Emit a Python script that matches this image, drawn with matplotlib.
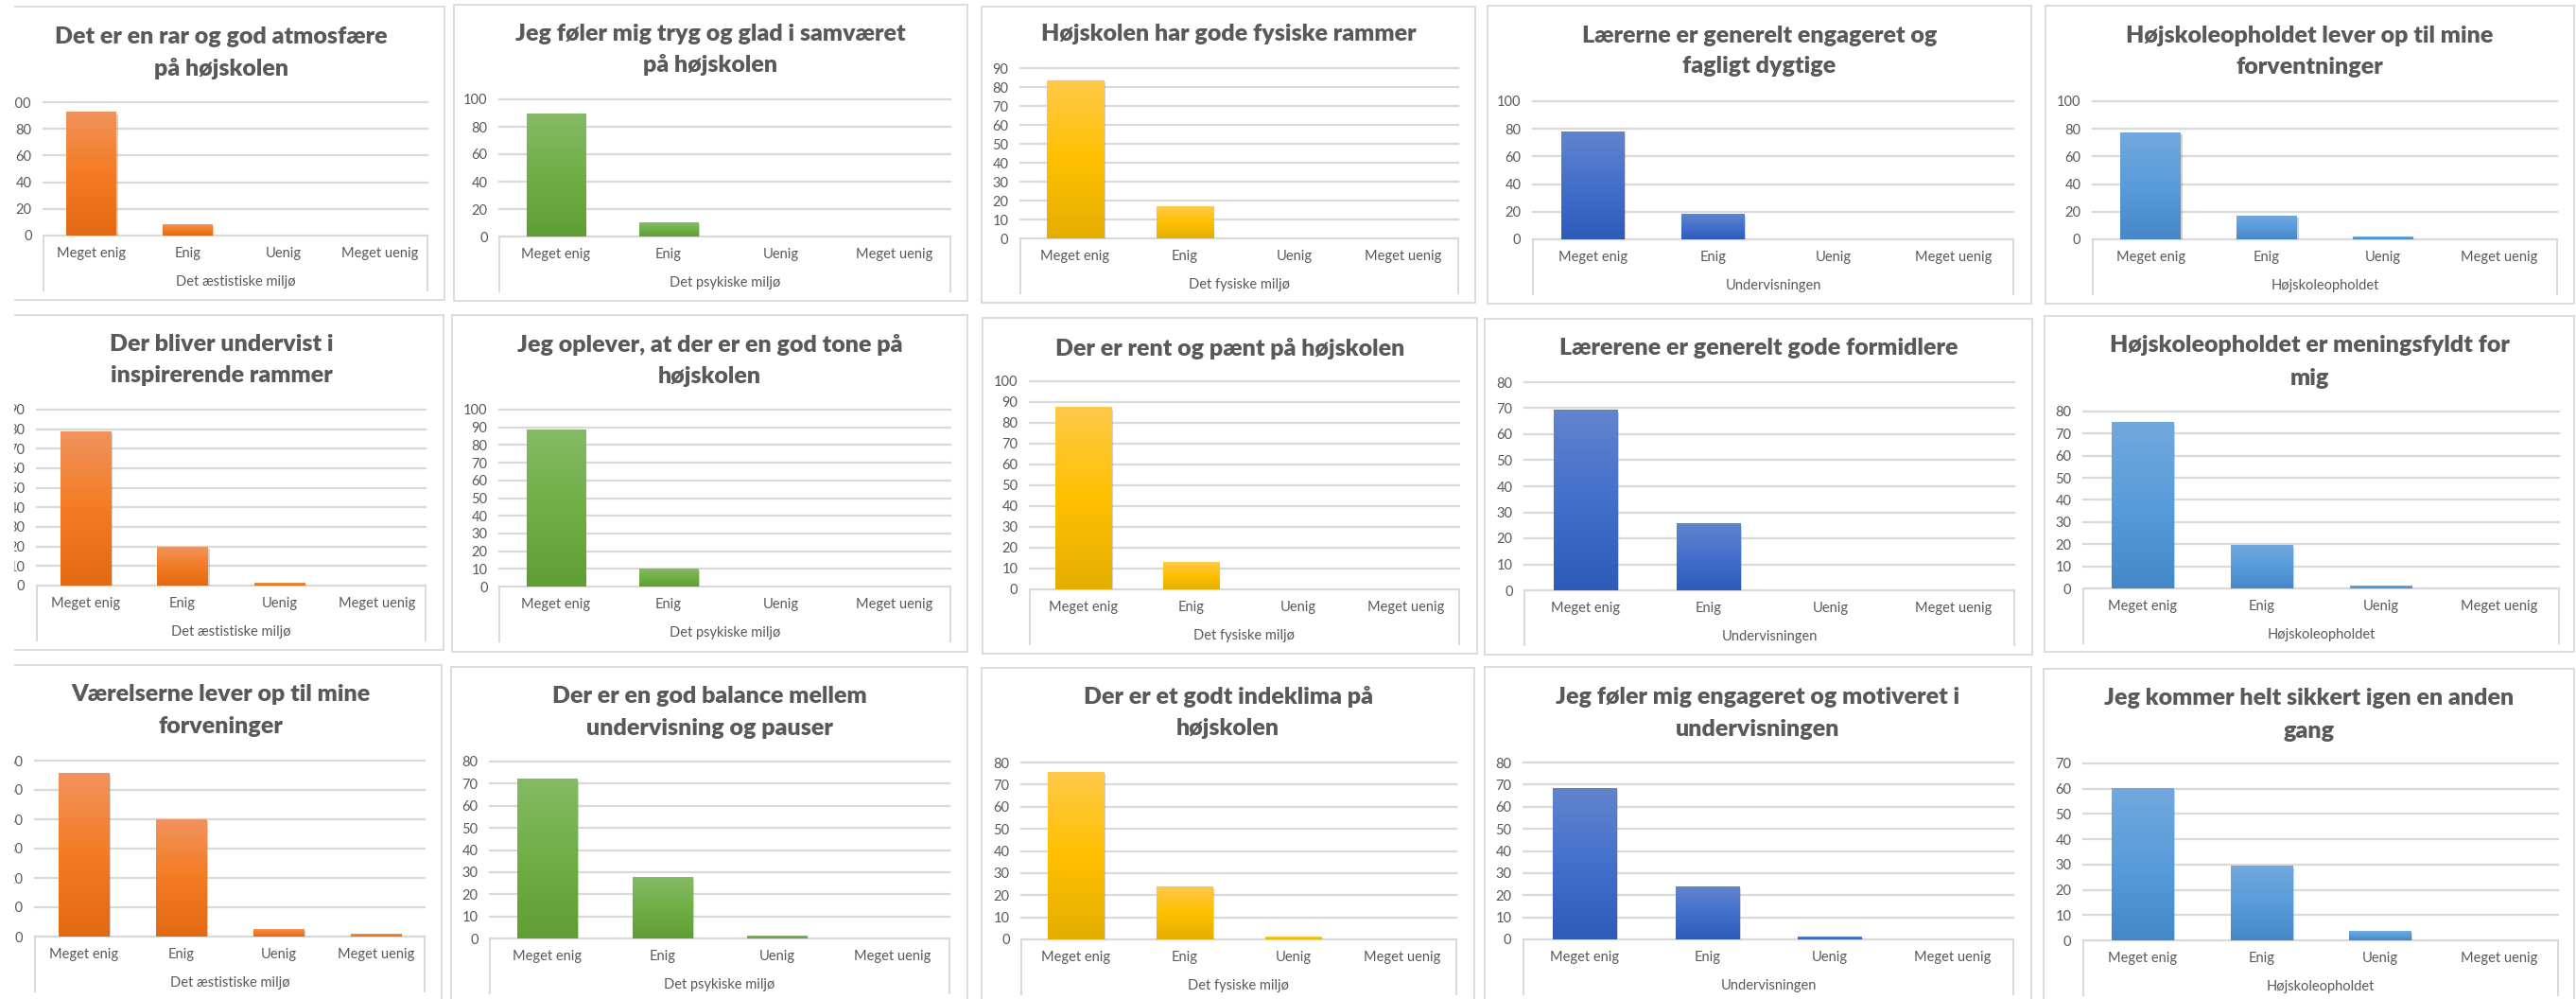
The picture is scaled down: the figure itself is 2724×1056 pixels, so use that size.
import matplotlib
matplotlib.use("Agg")
import matplotlib.pyplot as plt
from matplotlib.patches import Rectangle
from matplotlib.colors import LinearSegmentedColormap
import matplotlib.patheffects as pe
import numpy as np

plt.rcParams['font.family'] = ['Lato', 'DejaVu Sans']

# ---------------- data ----------------
categories = ["Meget enig", "Enig", "Uenig", "Meget uenig"]

group_titles = ["Det æstistiske miljø", "Det psykiske miljø", "Det fysiske miljø",
                "Undervisningen", "Højskoleopholdet"]

chart_titles = [
    "Det er en rar og god atmosfære\npå højskolen",
    "Jeg føler mig tryg og glad i samværet\npå højskolen",
    "Højskolen har gode fysiske rammer",
    "Lærerne er generelt engageret og\nfagligt dygtige",
    "Højskoleopholdet lever op til mine\nforventninger",
    "Der bliver undervist i\ninspirerende rammer",
    "Jeg oplever, at der er en god tone på\nhøjskolen",
    "Der er rent og pænt på højskolen",
    "Lærerene er generelt gode formidlere",
    "Højskoleopholdet er meningsfyldt for\nmig",
    "Værelserne lever op til mine\nforveninger",
    "Der er en god balance mellem\nundervisning og pauser",
    "Der er et godt indeklima på\nhøjskolen",
    "Jeg føler mig engageret og motiveret i\nundervisningen",
    "Jeg kommer helt sikkert igen en anden\ngang",
]

values_row1 = [
    [92.2, 8.0, 0, 0],
    [89.2, 9.9, 0, 0],
    [83.5, 17.0, 0, 0],
    [78.0, 18.0, 0, 0],
    [77.3, 16.6, 1.6, 0],
]
values_row2 = [
    [78.5, 19.7, 1.3, 0],
    [88.4, 9.8, 0, 0],
    [87.3, 13.0, 0, 0],
    [69.1, 25.5, 0, 0],
    [74.9, 19.3, 1.1, 0],
]
values_row3 = [
    [55.7, 40.0, 2.4, 0.8],
    [71.9, 27.7, 1.0, 0],
    [75.4, 23.9, 1.0, 0],
    [68.1, 23.9, 1.0, 0],
    [60.1, 29.2, 3.6, 0],
]

y_max = [100, 100, 90, 100, 100,
         90, 100, 100, 80, 80,
         60, 80, 80, 80, 70]
y_step = [20, 20, 10, 20, 20,
          10, 10, 10, 10, 10,
          10, 10, 10, 10, 10]

# ---------------- layout (pixels) ----------------
W, H = 2724, 1056
boxes = [
    (-2, 7, 470, 317), (480, 5, 1023, 318), (1038, 7, 1560, 320), (1573, 6, 2148, 321), (2163, 6, 2722, 321),
    (-1, 333, 469, 687), (478, 333, 1023, 689), (1039, 336, 1562, 691), (1570, 337, 2149, 692), (2162, 334, 2722, 689),
    (-1, 703, 467, 1075), (477, 705, 1023, 1075), (1038, 706, 1559, 1075), (1570, 705, 2148, 1075), (2161, 707, 2722, 1075),
]
plots = [  # left, right, top gridline y, zero y
    (46, 452, 108, 249), (528, 1005, 105, 250), (1079, 1542, 72, 252), (1621, 2129, 107, 253), (2213, 2704, 107, 253),
    (39, 450, 433, 619), (528, 1005, 433, 620), (1089, 1543, 403, 623), (1612, 2130, 404, 624), (2203, 2706, 435, 622),
    (37, 449, 804, 990), (518, 1004, 805, 992), (1080, 1540, 806, 993), (1611, 2129, 806, 993), (2203, 2705, 807, 994),
]
title_y = [
    (39, 73), (36, 69), (36,), (38, 70), (38, 71),
    (364, 397), (365, 398), (368,), (368,), (365, 400),
    (734, 768), (736, 770), (736, 770), (737, 771), (738, 773),
]

# colour ramps per column: (dark bottom, base, light top)
ramps = [
    ("#E26A12", "#F47B23", "#F1935C"),
    ("#5E9E34", "#6FAF45", "#86BA66"),
    ("#E4AE00", "#FFC000", "#FFC94A"),
    ("#2D5BB8", "#4370CB", "#6184CE"),
    ("#4488C8", "#589CDB", "#73A8DD"),
]

TEXT = "#595959"
GRID = "#D9D9D9"
PX2PT = 72 / 100

fig = plt.figure(figsize=(W / 100, H / 100), dpi=100)
fig.patch.set_facecolor("white")

all_values = values_row1 + values_row2 + values_row3

for i in range(15):
    col = i % 5
    x0, y0, x1, y1 = boxes[i]
    fig.add_artist(Rectangle((x0 / W, 1 - y1 / H), (x1 - x0) / W, (y1 - y0) / H,
                             transform=fig.transFigure, fill=False, ec="#D9D9D9", lw=1.3, zorder=0))
    pl, pr, pt, pz = plots[i]
    ax = fig.add_axes([pl / W, 1 - pz / H, (pr - pl) / W, (pz - pt) / H])
    ax.set_facecolor("none")
    vals = all_values[i]
    dark, base, light = ramps[col]
    cmap = LinearSegmentedColormap.from_list("g%d" % i, [dark, base, light])
    bars = ax.bar(range(4), vals, width=0.52, color=base, zorder=3,
                  path_effects=[pe.SimplePatchShadow(offset=(1.2, -1.2), shadow_rgbFace="#7f7f7f", alpha=0.35),
                                pe.Normal()])
    grad = np.linspace(1, 0, 256).reshape(-1, 1)
    for b in bars:
        h = b.get_height()
        if h <= 0:
            continue
        bx = b.get_x()
        ax.imshow(grad, extent=(bx, bx + b.get_width(), 0, h), aspect="auto", cmap=cmap,
                  vmin=0, vmax=1, zorder=4, interpolation="bilinear")
    ax.set_xlim(-0.5, 3.5)
    ax.set_ylim(0, y_max[i])
    ax.set_yticks(np.arange(0, y_max[i] + 1, y_step[i]))
    ax.set_xticks(range(4), categories)
    ax.grid(axis="y", color=GRID, lw=1.6, zorder=0)
    for gl in ax.get_ygridlines():
        gl.set_clip_on(False)
    ax.set_axisbelow(True)
    for s in ax.spines.values():
        s.set_visible(False)
    ax.tick_params(axis="y", length=0, labelsize=10.5, labelcolor=TEXT, pad=9)
    ax.tick_params(axis="x", length=0, labelsize=10.5, labelcolor=TEXT, pad=8.5)
    # multi-level category axis lines
    frac = 58 / (pz - pt)
    for xx in (0, 1):
        ax.plot([xx, xx], [0, -frac], transform=ax.transAxes, clip_on=False, color=GRID, lw=1.4)
    ax.annotate(group_titles[col], xy=(0.5, 0), xycoords="axes fraction",
                xytext=(0, -49 * PX2PT), textcoords="offset points",
                ha="center", va="center", fontsize=10.5, color=TEXT)
    # chart title
    cx = (x0 + x1) / 2
    for line, ty in zip(chart_titles[i].split("\n"), title_y[i]):
        fig.text(cx / W, 1 - ty / H, line, ha="center", va="center", fontsize=18,
                 fontweight="heavy", color=TEXT)

# left edge of the screenshot is cropped
fig.add_artist(Rectangle((0, 0), 14 / W, 1, transform=fig.transFigure, color="white", zorder=100))

fig.savefig("out.png", dpi=100, facecolor="white")
